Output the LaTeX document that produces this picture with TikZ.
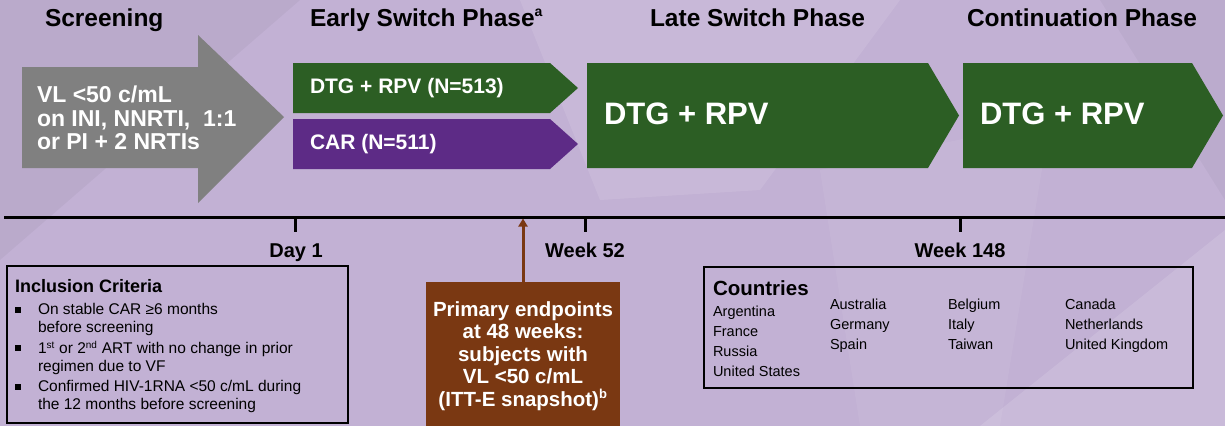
\documentclass[tikz,border=0pt]{standalone}
\usepackage{fontspec}
\setmainfont{Liberation Sans}
\usetikzlibrary{arrows.meta}
\definecolor{bgc}{RGB}{194,177,212}
\definecolor{dkgreen}{RGB}{44,94,36}
\definecolor{dkpurple}{RGB}{93,43,134}
\definecolor{dkgray}{RGB}{128,128,128}
\definecolor{dkbrown}{RGB}{122,56,18}
\newcommand\fsz[2]{\fontsize{#1}{#2}\selectfont}
\begin{document}
\begin{tikzpicture}[x=1pt,y=-1pt,
  every node/.style={inner sep=0pt, outer sep=0pt},
  header/.style={anchor=base west, font=\fsz{24.5}{28}\bfseries, text=black},
  wtxt/.style={text=white, font=\fsz{21}{24}\bfseries, anchor=west},
  bigtxt/.style={text=white, font=\fsz{31}{36}\bfseries, anchor=west},
  tick/.style={line width=3pt},
  ticklabel/.style={anchor=base, font=\fsz{20}{24}\bfseries},
  infobox/.style={draw=black, line width=1.8pt},
  bul/.style={anchor=north west, align=left, font=\fsz{15.5}{18}},
  ctry/.style={anchor=base west, font=\fsz{14.5}{17}},
]
\useasboundingbox (0,0) rectangle (1225,426);
% background
\fill[bgc] (0,0) rectangle (1225,426);
\fill[white, opacity=0.10] (520,0) -- (900,0) -- (760,190) -- (600,200) -- cycle;
\fill[black, opacity=0.04] (0,0) -- (300,0) -- (0,260) -- cycle;
\fill[white, opacity=0.12] (980,426) -- (1225,230) -- (1225,426) -- cycle;
\fill[white, opacity=0.06] (820,170) -- (1050,120) -- (1000,426) -- (860,426) -- cycle;
\fill[black, opacity=0.03] (1100,0) -- (1225,0) -- (1225,200) -- cycle;

% headers
\node[header] (hscr) at (45,26) {Screening};
\node[header] (hearly) at (310,26) {Early Switch Phase\textsuperscript{\fsz{14}{14}a}};
\node[header] (hlate) at (650,26) {Late Switch Phase};
\node[header] (hcont) at (967,26) {Continuation Phase};

% screening arrow
\fill[dkgray] (22,67) -- (198,67) -- (198,35) -- (284,117) -- (198,203) -- (198,168) -- (22,168) -- cycle;
\node[text=white, font=\fsz{23}{23.5}\bfseries, align=left, anchor=west] (scrtxt) at (37,118)
  {VL <50 c/mL\\on INI, NNRTI,\ \ 1:1\\or PI + 2 NRTIs};

% early switch chevrons
\fill[dkgreen] (293,63) -- (550,63) -- (578,88) -- (550,113) -- (293,113) -- cycle;
\node[wtxt] (dtg1) at (310,88) {DTG + RPV (N=513)};
\fill[dkpurple] (293,119) -- (550,119) -- (578,144) -- (550,169) -- (293,169) -- cycle;
\node[wtxt] (car) at (310,144) {CAR (N=511)};

% late switch
\fill[dkgreen] (587,63) -- (928,63) -- (959,115.5) -- (928,168) -- (587,168) -- cycle;
\node[bigtxt] (dtg2) at (604,114) {DTG + RPV};
% continuation
\fill[dkgreen] (963,63) -- (1192,63) -- (1223,115.5) -- (1192,168) -- (963,168) -- cycle;
\node[bigtxt] (dtg3) at (980,114) {DTG + RPV};

% timeline
\draw[line width=3pt] (4,217) -- (1225,217);
\draw[tick] (295,217) -- (295,232);
\draw[tick] (585,217) -- (585,232);
\draw[tick] (960,217) -- (960,232);
\node[ticklabel] (d1) at (296,257) {Day 1};
\node[ticklabel] (w52) at (585,257) {Week 52};
\node[ticklabel] (w148) at (960,257) {Week 148};

% inclusion criteria
\draw[infobox] (7,266) rectangle (348,423);
\node[anchor=base west, font=\fsz{18}{20}\bfseries] (inctitle) at (15,292) {Inclusion Criteria};
\foreach \yy in {307,345,384}{\fill[black] (15,\yy) rectangle (21,\yy+6);}
\node[bul] (b1) at (38,303.5) {On stable CAR ≥6 months\\before screening};
\node[bul] (b2) at (38,341.5) {1\textsuperscript{\fsz{10}{10}st} or 2\textsuperscript{\fsz{10}{10}nd} ART with no change in prior\\regimen due to VF};
\node[bul] (b3) at (38,380) {Confirmed HIV-1RNA <50 c/mL during\\the 12 months before screening};

% primary endpoints
\node[fill=dkbrown, minimum width=194pt, minimum height=144pt, anchor=north west] (endbox) at (426,282) {};
\node[text=white, font=\fsz{20.5}{22.5}\bfseries, align=center] (endtxt) at (523,356)
  {Primary endpoints\\at 48 weeks:\\subjects with\\VL <50 c/mL\\(ITT-E snapshot)\textsuperscript{\fsz{13}{13}b}};
\coordinate (ep) at (523,218.5);
\draw[dkbrown, line width=3pt, -{Triangle[length=8pt,width=9pt]}] (endbox.north) -- (ep);

% countries
\draw[infobox] (704,267) rectangle (1193,388);
\node[anchor=base west, font=\fsz{20.5}{22}\bfseries] (ctitle) at (713,295) {Countries};
\node[ctry] (c11) at (713,316) {Argentina};
\node[ctry] (c12) at (713,336) {France};
\node[ctry] (c13) at (713,356) {Russia};
\node[ctry] (c14) at (713,376) {United States};
\node[ctry] (c21) at (830,309) {Australia};
\node[ctry] (c22) at (830,329) {Germany};
\node[ctry] (c23) at (830,349) {Spain};
\node[ctry] (c31) at (948,309) {Belgium};
\node[ctry] (c32) at (948,329) {Italy};
\node[ctry] (c33) at (948,349) {Taiwan};
\node[ctry] (c41) at (1065,309) {Canada};
\node[ctry] (c42) at (1065,329) {Netherlands};
\node[ctry] (c43) at (1065,349) {United Kingdom};
\end{tikzpicture}
\end{document}
